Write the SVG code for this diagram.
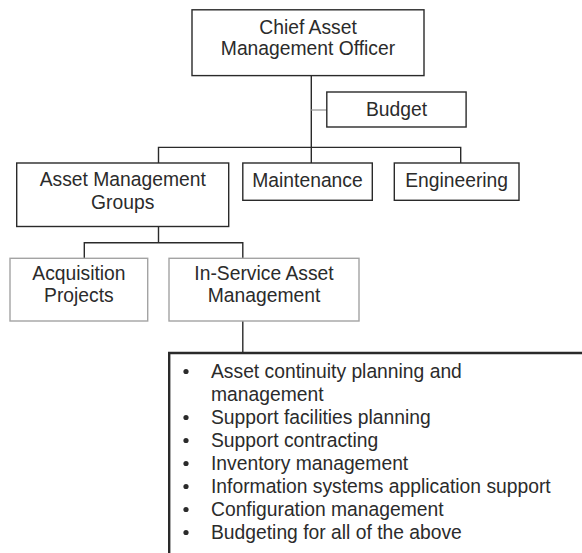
<svg xmlns="http://www.w3.org/2000/svg" width="582" height="553" viewBox="0 0 582 553">
<style>
text{font-family:"Liberation Sans",Arial,sans-serif;font-size:19.3px;fill:#2b2b2b}
.c{text-anchor:middle}
.box{fill:#fff;stroke:#2a2a2a;stroke-width:1.4}
.gbox{fill:#fff;stroke:#a3a3a3;stroke-width:1.4}
.ln{fill:none;stroke:#2a2a2a;stroke-width:1.4}
.gln{fill:none;stroke:#a3a3a3;stroke-width:1.4}
.list{fill:none;stroke:#2a2a2a;stroke-width:2.4}
</style>
<rect width="582" height="553" fill="#fff"/>
<g id="connectors">
<path class="ln" d="M311.3,75.6 V163"/>
<path class="gln" d="M311.3,110 H326.8"/>
<path class="ln" d="M158.5,163 V147.4 H460.7 V163"/>
<path class="ln" d="M158.5,226.5 V242.7 M84.3,258.3 V242.7 H242.8 V258.3"/>
<path class="ln" d="M242.8,321 V352.7"/>
</g>
<g id="chief">
<rect class="box" x="192" y="9.8" width="232" height="65.8"/>
<text class="c" x="308" y="33.5">Chief Asset</text>
<text class="c" x="308" y="55.3">Management Officer</text>
</g>
<g id="budget">
<rect class="box" x="326.8" y="92" width="139.3" height="35"/>
<text class="c" x="396.5" y="115.7">Budget</text>
</g>
<g id="asset-management-groups">
<rect class="box" x="16.7" y="163" width="212" height="63.5"/>
<text class="c" x="122.7" y="186">Asset Management</text>
<text class="c" x="122.7" y="209.3">Groups</text>
</g>
<g id="maintenance">
<rect class="box" x="242.8" y="163" width="129.5" height="37.3"/>
<text class="c" x="307.5" y="186.5">Maintenance</text>
</g>
<g id="engineering">
<rect class="box" x="394.3" y="163" width="124.7" height="37.3"/>
<text class="c" x="456.6" y="186.5">Engineering</text>
</g>
<g id="acquisition-projects">
<rect class="gbox" x="10" y="258.3" width="137.7" height="62.7"/>
<text class="c" x="78.9" y="280">Acquisition</text>
<text class="c" x="78.9" y="302.3">Projects</text>
</g>
<g id="in-service-asset-management">
<rect class="gbox" x="169" y="258.3" width="190" height="62.7"/>
<text class="c" x="264" y="280">In-Service Asset</text>
<text class="c" x="264" y="302.3">Management</text>
</g>
<g id="functions-list">
<path class="list" d="M169.2,553 V353 H582"/>
<g fill="#2b2b2b">
<circle cx="186" cy="371.5" r="2.6"/>
<circle cx="186" cy="417.5" r="2.6"/>
<circle cx="186" cy="440.5" r="2.6"/>
<circle cx="186" cy="463.5" r="2.6"/>
<circle cx="186" cy="486.5" r="2.6"/>
<circle cx="186" cy="509.5" r="2.6"/>
<circle cx="186" cy="532.5" r="2.6"/>
</g>
<text x="211" y="377.7">Asset continuity planning and</text>
<text x="211" y="400.7">management</text>
<text x="211" y="423.5">Support facilities planning</text>
<text x="211" y="446.5">Support contracting</text>
<text x="211" y="469.5">Inventory management</text>
<text x="211" y="492.7">Information systems application support</text>
<text x="211" y="515.7">Configuration management</text>
<text x="211" y="539">Budgeting for all of the above</text>
</g>
</svg>
